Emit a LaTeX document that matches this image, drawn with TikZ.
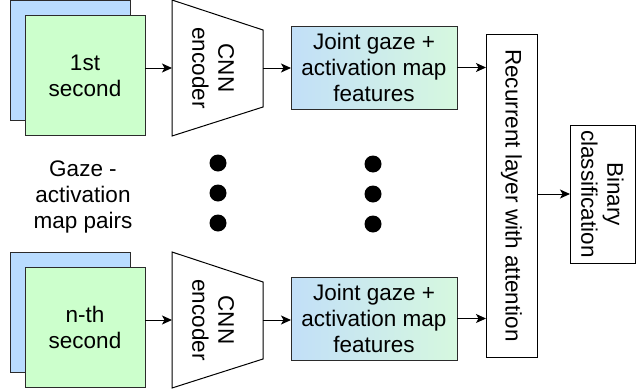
\documentclass[tikz,border=0pt]{standalone}
\usepackage{fontspec}
\setmainfont{Liberation Sans}
\usetikzlibrary{arrows.meta,calc}
\definecolor{backblue}{HTML}{B9DCFF}
\definecolor{frontgreen}{HTML}{CCFFCC}
\definecolor{gradblue}{HTML}{C2DFF8}
\definecolor{gradgreen}{HTML}{D6F8DF}
\definecolor{edge}{HTML}{2B2B2B}
\tikzset{
  x=1pt, y=-1pt,
  every node/.style={font=\fontsize{22.5}{26}\selectfont, inner sep=0pt, outer sep=0pt},
  sq/.style={draw=edge, line width=1pt, minimum width=120pt, minimum height=120pt},
  backsq/.style={sq, fill=backblue},
  frontsq/.style={sq, fill=frontgreen, align=center},
  encshape/.style={minimum width=91pt, minimum height=136pt},
  featbox/.style={draw=edge, line width=1pt, left color=gradblue, right color=gradgreen, minimum width=166pt, minimum height=83pt},
  plainbox/.style={draw=black, line width=1pt, fill=white},
  vtext/.style={rotate=-90, align=center},
  vline/.style={rotate=-90},
  arr/.style={line width=1pt, -{Stealth[length=10pt,width=9pt,inset=2.5pt]}},
  dot/.style={circle, fill=black, minimum size=17pt}
}
\begin{document}
\begin{tikzpicture}
\useasboundingbox (0,0) rectangle (640,391);
% top row
\node[backsq] (b1) at (70,60) {};
\node[frontsq] (g1) at (85,75.5) {1st\\second};
\node[encshape] (enc1) at (217.5,68) {};
\draw[line width=1pt, draw=black, fill=white] (enc1.north west) -- ($(enc1.north east)+(0,30)$) -- ($(enc1.south east)+(0,-29)$) -- (enc1.south west) -- cycle;
\node[vtext] (enct1) at (213,68) {CNN\\encoder};
\node[featbox, align=center] (f1) at (374,67.5) {Joint gaze +\\activation map\\features};
% bottom row
\node[backsq] (b2) at (70,312) {};
\node[frontsq] (g2) at (85,327) {n-th\\second};
\node[encshape] (enc2) at (217.5,320) {};
\draw[line width=1pt, draw=black, fill=white] (enc2.north west) -- ($(enc2.north east)+(0,30)$) -- ($(enc2.south east)+(0,-29)$) -- (enc2.south west) -- cycle;
\node[vtext] (enct2) at (213,320) {CNN\\encoder};
\node[featbox, align=center] (f2) at (374,318.5) {Joint gaze +\\activation map\\features};
% recurrent and classification
\node[plainbox, minimum width=51pt, minimum height=323pt] (rec) at (511.5,195.5) {};
\node[vline] (rect) at (rec) {\mbox{Recurrent layer with attention}};
\node[plainbox, minimum width=65pt, minimum height=138pt] (bin) at (602.5,194) {};
\node[vtext] (bint) at (bin) {Binary\\classification};
% middle text and dots
\node[align=center] (lbl) at (83,197) {Gaze -\\activation\\map pairs};
\node[dot] (d1) at (218,163) {};
\node[dot] (d2) at (218,193) {};
\node[dot] (d3) at (218,223) {};
\node[dot] (d4) at (373,164) {};
\node[dot] (d5) at (373,194) {};
\node[dot] (d6) at (373,224) {};
% arrows
\draw[arr] (g1.east |- enc1.west) -- (enc1.west);
\draw[arr] (enc1.east) -- (f1.west |- enc1.east);
\draw[arr] (f1.east) -- (f1.east -| rec.west);
\draw[arr] (g2.east |- enc2.west) -- (enc2.west);
\draw[arr] (enc2.east) -- (f2.west |- enc2.east);
\draw[arr] (f2.east) -- (f2.east -| rec.west);
\draw[arr] (rec.east |- bin.west) -- (bin.west);
\end{tikzpicture}
\end{document}
